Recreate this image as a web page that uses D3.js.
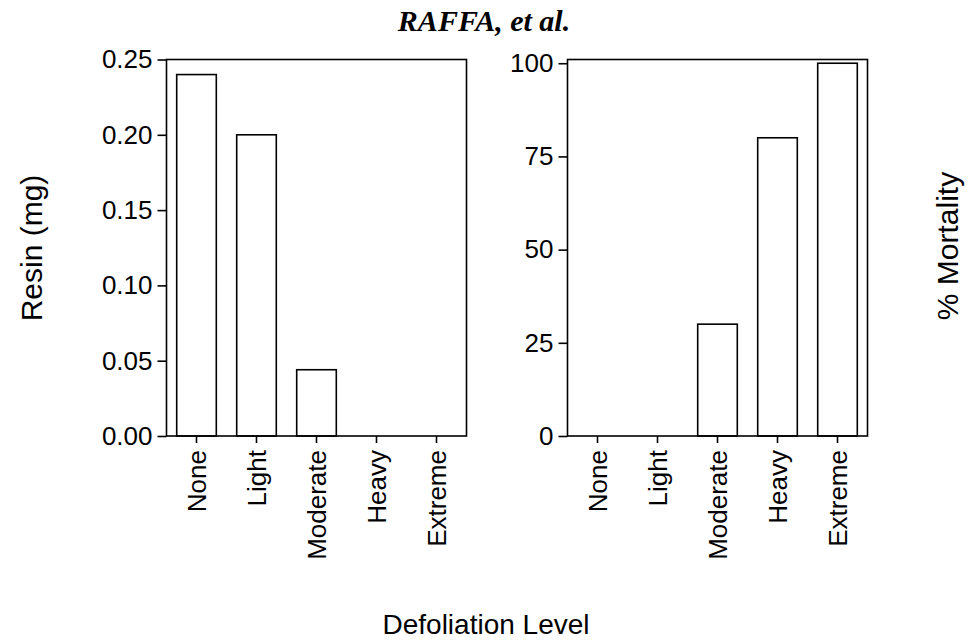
<!DOCTYPE html>
<html>
<head>
<meta charset="utf-8">
<script src="https://cdn.jsdelivr.net/npm/d3@7"></script>
<style>
  body { margin: 0; background: #fff; }
  .sans { font-family: "Liberation Sans", Arial, sans-serif; }
  .title { font-family: "Liberation Serif", "Times New Roman", serif; font-weight: bold; font-style: italic; }
</style>
</head>
<body>
<svg id="chart"></svg>
<script>
const width = 973
const height = 643

// Data
const categories = ['None', 'Light', 'Moderate', 'Heavy', 'Extreme'];
const resin = [0.24, 0.20, 0.044, 0, 0];
const mortality = [0, 0, 30, 80, 100];
const resinTicks = [0, 0.05, 0.10, 0.15, 0.20, 0.25];
const mortalityTicks = [0, 25, 50, 75, 100];

var svg = d3.select('#chart')
    .attr('width', width)
    .attr('height', height);

const top_ = 59.5;
const bottom = 436;

function drawPanel(left, right, values, yDomain, ticks, fmt) {
    var x = d3.scaleBand()
        .domain(categories)
        .range([left, right])
        .paddingInner(0.34)
        .paddingOuter(0.17);

    var y = d3.scaleLinear()
        .domain(yDomain)
        .range([bottom, top_]);

    var g = svg.append('g');

    // Bars
    g.selectAll('rect.bar')
        .data(values)
        .enter()
        .append('rect')
        .attr('class', 'bar')
        .attr('x', (d, i) => x(categories[i]))
        .attr('y', d => y(d))
        .attr('width', x.bandwidth())
        .attr('height', d => bottom - y(d))
        .attr('fill', 'white')
        .attr('stroke', 'black')
        .attr('stroke-width', 1.6);

    // Frame
    g.append('rect')
        .attr('x', left)
        .attr('y', top_)
        .attr('width', right - left)
        .attr('height', bottom - top_)
        .attr('fill', 'none')
        .attr('stroke', 'black')
        .attr('stroke-width', 1.6);

    // y axis
    var ya = g.append('g')
        .attr('transform', `translate(${left},0)`)
        .call(d3.axisLeft(y).tickValues(ticks).tickFormat(fmt).tickSize(9).tickPadding(5));
    ya.select('.domain').remove();
    ya.selectAll('line').attr('stroke-width', 1.6);
    ya.selectAll('text')
        .attr('class', 'sans')
        .attr('font-size', 26)
        .attr('fill', 'black');

    // x axis with rotated labels
    var xa = g.append('g')
        .attr('transform', `translate(0,${bottom})`)
        .call(d3.axisBottom(x).tickSize(7));
    xa.select('.domain').remove();
    xa.selectAll('line').attr('stroke-width', 1.6);
    xa.selectAll('text')
        .attr('class', 'sans')
        .attr('font-size', 26)
        .attr('fill', 'black')
        .attr('text-anchor', 'end')
        .attr('x', 0).attr('y', 0).attr('dy', '0.35em')
        .attr('transform', 'translate(0,14) rotate(-90)');
    ya.attr('font-family', null);
    xa.attr('font-family', null);
}

drawPanel(166.5, 466.5, resin, [0, 0.25], resinTicks, d3.format('.2f'));
drawPanel(567.5, 867.5, mortality, [0, 101], mortalityTicks, d3.format('d'));

// Title
svg.append('text')
    .attr('class', 'title')
    .attr('x', 484)
    .attr('y', 31)
    .attr('text-anchor', 'middle')
    .attr('font-size', 30)
    .text('RAFFA, et al.');

// Axis titles
svg.append('text')
    .attr('class', 'sans')
    .attr('transform', 'translate(42,248) rotate(-90)')
    .attr('text-anchor', 'middle')
    .attr('font-size', 30)
    .text('Resin (mg)');

svg.append('text')
    .attr('class', 'sans')
    .attr('transform', 'translate(958,246) rotate(-90)')
    .attr('text-anchor', 'middle')
    .attr('font-size', 30)
    .text('% Mortality');

svg.append('text')
    .attr('class', 'sans')
    .attr('x', 486)
    .attr('y', 634)
    .attr('text-anchor', 'middle')
    .attr('font-size', 28)
    .text('Defoliation Level');
</script>
</body>
</html>
